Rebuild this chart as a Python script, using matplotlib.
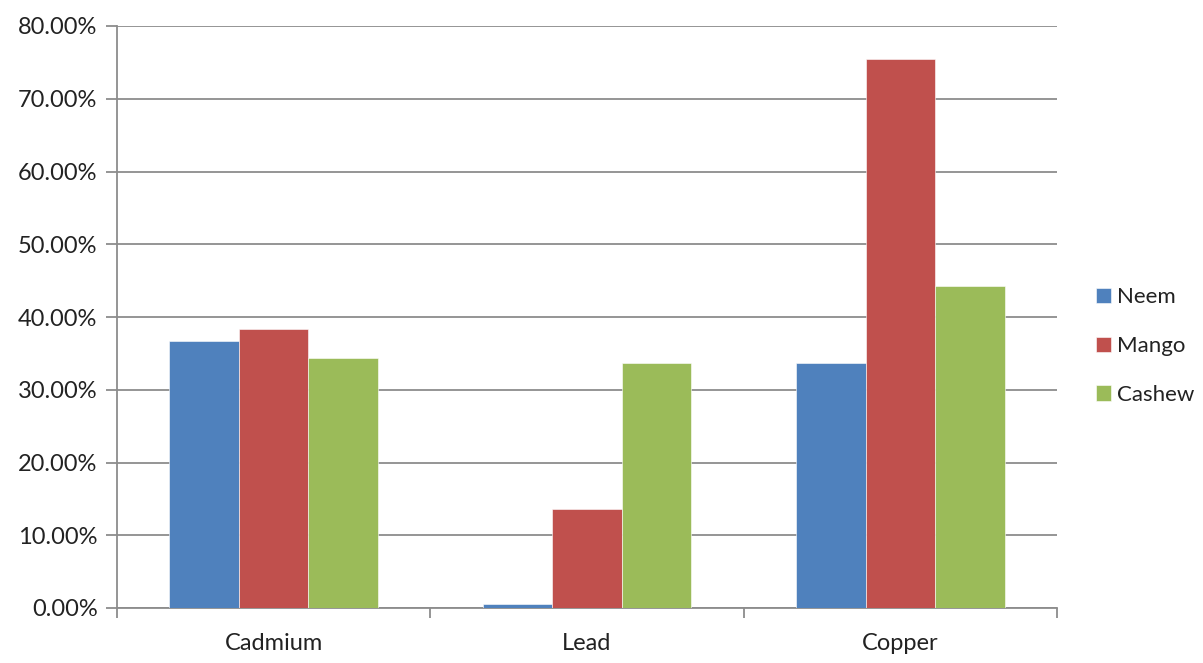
import matplotlib
matplotlib.use('Agg')
import matplotlib.pyplot as plt
import numpy as np
from matplotlib.ticker import FuncFormatter, MultipleLocator

plt.rcParams['font.family'] = ['Lato', 'DejaVu Sans']

metals = ['Cadmium', 'Lead', 'Copper']
series = ['Neem', 'Mango', 'Cashew']
neem = [36.7, 0.5, 33.7]
mango = [38.3, 13.6, 75.5]
cashew = [34.3, 33.7, 44.2]
colors = ['#4F81BD', '#C0504D', '#9BBB59']

fig = plt.figure(figsize=(12.03, 6.63), dpi=100)
ax = fig.add_axes([117/1203, 1 - 608/663, 940/1203, 582/663])

x = np.arange(len(metals))
w = 1 / 4.5  # excel style: gap width 150%
for i, (vals, name) in enumerate(zip([neem, mango, cashew], series)):
    ax.bar(x + (i - 1) * w, vals, w, color=colors[i], label=name,
           edgecolor='white', linewidth=0.4, zorder=3)

ax.set_xlim(-0.5, 2.5)
ax.set_ylim(0, 80)
ax.yaxis.set_major_locator(MultipleLocator(10))
ax.yaxis.set_major_formatter(FuncFormatter(lambda v, p: f'{v:.2f}%'))
ax.grid(axis='y', color='#8c8c8c', linewidth=1.3, zorder=0)

ax.set_xticks(x)
ax.set_xticklabels(metals)
ax.set_xticks(np.arange(-0.5, 3, 1), minor=True)
ax.tick_params(axis='x', which='major', length=0, pad=18, labelsize=17, colors='#222222')
ax.tick_params(axis='x', which='minor', length=7, color='#8c8c8c', width=1.3)
ax.tick_params(axis='y', length=8, color='#8c8c8c', width=1.3, labelsize=17,
               labelcolor='#222222', pad=6)

for s in ['top', 'right']:
    ax.spines[s].set_visible(False)
for s in ['left', 'bottom']:
    ax.spines[s].set_color('#8c8c8c')
    ax.spines[s].set_linewidth(1.3)

ax.legend(loc='center left', bbox_to_anchor=(1.02, 0.45), frameon=False,
          fontsize=16, handlelength=0.7, handleheight=0.7, handletextpad=0.25,
          labelspacing=1.3, labelcolor='#222222')

fig.savefig('out.png', dpi=100)
